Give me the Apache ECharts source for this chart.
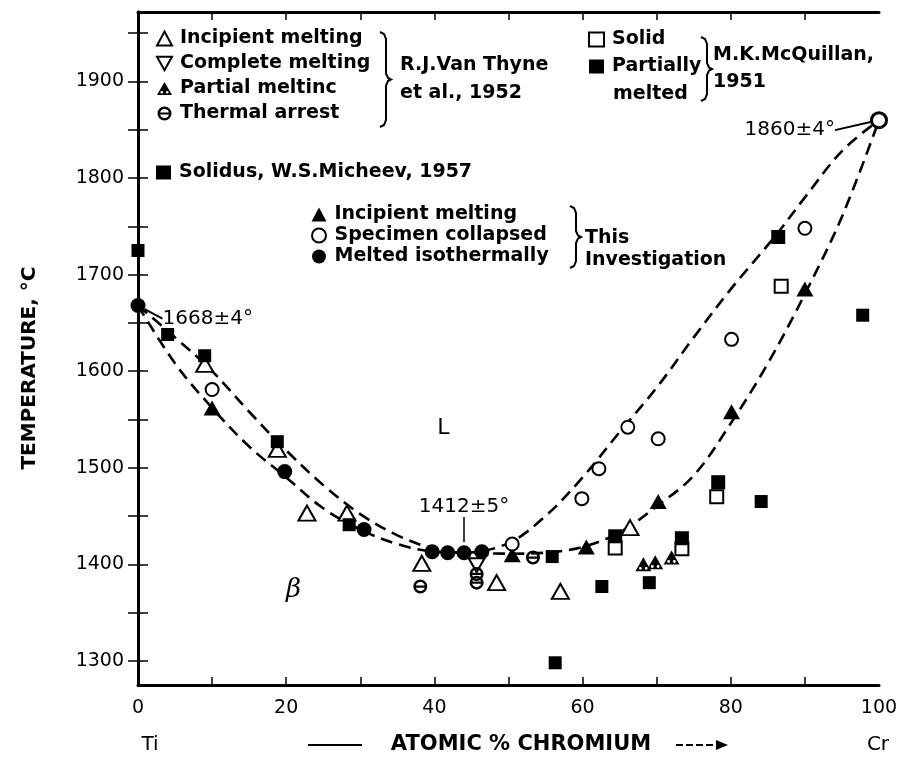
<!DOCTYPE html>
<html>
<head>
<meta charset="utf-8">
<script src="https://cdn.jsdelivr.net/npm/echarts@6/dist/echarts.min.js"></script>
<style>
  html, body { margin: 0; padding: 0; background: #fff; }
  #chart { width: 909px; height: 758px; }
</style>
</head>
<body>
<div id="chart"></div>
<script>
// Axis ticks: temperature (°C) and composition (atomic % Cr)
const tempLabels = [1300, 1400, 1500, 1600, 1700, 1800, 1900];
const tempTicks = [1300, 1350, 1400, 1450, 1500, 1550, 1600, 1650, 1700, 1750, 1800, 1850, 1900, 1950];
const compLabels = [0, 20, 40, 60, 80, 100];
const compTicks = [10, 20, 30, 40, 50, 60, 70, 80, 90];

// R.J. Van Thyne et al., 1952
const vanThyneIncipient = [[9, 1607], [18.8, 1519], [22.8, 1453], [28.2, 1453], [38.3, 1401], [48.4, 1381], [57, 1372], [66.4, 1438]];
const vanThyneComplete = [[45.7, 1399]];
const vanThynePartial = [[68.2, 1400], [69.8, 1402], [72, 1407]];
const vanThyneArrest = [[38.1, 1377], [45.7, 1390], [45.7, 1381], [53.3, 1407]];

// Solidus, W.S. Micheev, 1957
const micheevSolidus = [[0, 1725], [4, 1638], [9, 1616], [18.8, 1527], [28.5, 1441], [55.9, 1408], [56.3, 1298], [62.6, 1377], [69, 1381], [84.1, 1465], [97.8, 1658]];

// M.K. McQuillan, 1951
const mcQuillanSolid = [[64.4, 1417], [73.4, 1416], [78.1, 1470], [86.8, 1688]];
const mcQuillanPartial = [[64.4, 1429], [73.4, 1427], [78.3, 1485], [86.4, 1739]];

// This investigation
const incipientMelting = [[10, 1562], [50.5, 1410], [60.5, 1418], [70.2, 1465], [80.1, 1558], [90, 1685]];
const specimenCollapsed = [[10, 1581], [50.5, 1421], [59.9, 1468], [62.2, 1499], [66.1, 1542], [70.2, 1530], [80.1, 1633], [90, 1748]];
const meltedIsothermally = [[19.8, 1496], [30.5, 1436], [39.7, 1413], [41.8, 1412], [44, 1412], [46.4, 1413]];

// Melting points of the pure metals and the congruent minimum
const titaniumMelt = [0, 1668];
const chromiumMelt = [100, 1860];
const congruentMin = [44, 1412];

// Liquidus and solidus (dashed)
const liquidus = [[0, 1668], [5, 1635], [10, 1600], [15, 1558], [20, 1518], [25, 1482], [30, 1452], [35, 1430], [40, 1416], [44, 1412], [50, 1422], [55, 1450], [60, 1490], [65, 1537], [70, 1583], [75, 1635], [80, 1685], [86, 1740], [90, 1780], [95, 1828], [100, 1860]];
const solidus = [[0, 1668], [5, 1608], [10, 1562], [15, 1522], [20, 1490], [25, 1458], [30, 1436], [35, 1421], [40, 1413], [44, 1412], [50, 1411], [55, 1412], [60, 1418], [65, 1433], [70, 1460], [75, 1492], [80, 1546], [85, 1608], [90, 1680], [95, 1760], [100, 1860]];

// Phase-field labels
const regionLabels = [[41.2, 1541, 'L'], [21, 1373, 'β']];

const FONT = 'DejaVu Sans';
const INK = '#000';

const legendText = {
  vtIncipient: 'Incipient melting',
  vtComplete: 'Complete melting',
  vtPartial: 'Partial meltinc',
  vtArrest: 'Thermal arrest',
  micheev: 'Solidus, W.S.Micheev, 1957',
  mqSolid: 'Solid',
  mqPartial: 'Partially',
  tiIncipient: 'Incipient melting',
  tiCollapsed: 'Specimen collapsed',
  tiMelted: 'Melted isothermally'
};

const openStyle = { color: '#fff', borderColor: INK, borderWidth: 2, opacity: 1 };
const solidStyle = { color: INK, opacity: 1 };

// Symbol paths
const downTriangle = 'path://M-10,-8 L10,-8 L0,10 Z';
const arrestSymbol = 'path://M0,-10 A10,10 0 1,1 0,10 A10,10 0 1,1 0,-10 Z M0,-6.5 A6.5,6.5 0 1,0 0,6.5 A6.5,6.5 0 1,0 0,-6.5 Z M-8,-1.6 L8,-1.6 L8,1.6 L-8,1.6 Z';
const hatchedTriangle = 'path://M0,-10 L11,9 L-11,9 Z M-4,3 A2,2 0 1,0 -4,7 A2,2 0 1,0 -4,3 Z M4,3 A2,2 0 1,0 4,7 A2,2 0 1,0 4,3 Z';

function scatter(name, data, symbol, size, style, extra) {
  return Object.assign({
    name: name,
    type: 'scatter',
    data: data,
    symbol: symbol,
    symbolSize: size,
    itemStyle: style,
    clip: false,
    z: 5,
    emphasis: { disabled: true }
  }, extra || {});
}

function dashed(name, data) {
  return {
    name: name,
    type: 'line',
    data: data,
    smooth: 0.35,
    symbol: 'none',
    clip: false,
    lineStyle: { color: INK, width: 2.6, type: [12, 7] },
    z: 3,
    silent: true
  };
}

function brace(x, top, bottom) {
  const mid = (top + bottom) / 2;
  return {
    type: 'polyline',
    shape: {
      points: [[x, top], [x + 4, top + 2], [x + 6, top + 7], [x + 6, mid - 6], [x + 8, mid - 1.5], [x + 11, mid],
               [x + 8, mid + 1.5], [x + 6, mid + 6], [x + 6, bottom - 7], [x + 4, bottom - 2], [x, bottom]]
    },
    style: { stroke: INK, lineWidth: 2, fill: null }
  };
}

function txt(x, y, s, size, extra) {
  return {
    type: 'text',
    x: x, y: y,
    style: Object.assign({ text: s, font: 'bold ' + (size || 19) + 'px "' + FONT + '"', fill: INK, textVerticalAlign: 'middle' }, extra || {})
  };
}

const legendBase = {
  orient: 'vertical',
  selectedMode: false,
  padding: 0,
  itemWidth: 15,
  itemHeight: 14,
  formatter: n => legendText[n],
  textStyle: { fontFamily: FONT, fontSize: 19, fontWeight: 'bold', color: INK, padding: [0, 0, 0, 3] }
};

const chart = echarts.init(document.getElementById('chart'), null, { renderer: 'canvas' });

chart.setOption({
  animation: false,
  backgroundColor: '#fff',
  grid: { left: 138, right: 30, top: 12, bottom: 73 },
  xAxis: [
    {
      type: 'value', min: 0, max: 100, position: 'bottom',
      axisLine: { lineStyle: { color: INK, width: 3 } },
      axisTick: { inside: true, length: 8, customValues: compTicks, lineStyle: { color: INK, width: 1.5 } },
      axisLabel: { customValues: compLabels, fontFamily: FONT, fontSize: 19, color: INK, margin: 14 },
      splitLine: { show: false }
    },
    {
      type: 'value', min: 0, max: 100, position: 'top',
      axisLine: { lineStyle: { color: INK, width: 3 } },
      axisTick: { inside: true, length: 8, customValues: compTicks, lineStyle: { color: INK, width: 1.5 } },
      axisLabel: { show: false },
      splitLine: { show: false }
    }
  ],
  yAxis: [
    {
      type: 'value', min: 1275, max: 1972, position: 'left',
      axisLine: { lineStyle: { color: INK, width: 3 } },
      axisTick: { inside: true, length: 10, customValues: tempTicks, lineStyle: { color: INK, width: 1.5 } },
      axisLabel: { customValues: tempLabels, formatter: v => String(v), fontFamily: FONT, fontSize: 19, color: INK, margin: 14 },
      splitLine: { show: false }
    },
    {
      type: 'value', min: 1275, max: 1972, position: 'right',
      axisLine: { lineStyle: { color: INK, width: 3 } },
      axisTick: { inside: true, length: 10, customValues: tempTicks, lineStyle: { color: INK, width: 1.5 } },
      axisLabel: { show: false },
      splitLine: { show: false }
    }
  ],
  legend: [
    Object.assign({}, legendBase, { data: ['vtIncipient', 'vtComplete', 'vtPartial', 'vtArrest'], left: 156, top: 29, itemGap: 6 }),
    Object.assign({}, legendBase, { data: ['micheev'], left: 156, top: 163 }),
    Object.assign({}, legendBase, { data: ['mqSolid', 'mqPartial'], left: 588, top: 30, itemGap: 8 }),
    Object.assign({}, legendBase, { data: ['tiIncipient', 'tiCollapsed', 'tiMelted'], left: 311, top: 205, itemGap: 2 })
  ],
  graphic: [
    {
      type: 'text', x: 30, y: 368, rotation: Math.PI / 2,
      style: { text: 'TEMPERATURE, °C', font: 'bold 20px "' + FONT + '"', fill: INK, textAlign: 'center', textVerticalAlign: 'middle' }
    },
    brace(380, 32, 127),
    txt(400, 65, 'R.J.Van Thyne'),
    txt(400, 93, 'et al., 1952'),
    txt(613, 94, 'melted'),
    brace(701, 37, 101),
    txt(713, 55, 'M.K.McQuillan,'),
    txt(713, 82, '1951'),
    brace(570, 206, 268),
    txt(585, 238, 'This'),
    txt(585, 260, 'Investigation'),
    txt(150, 745, 'Ti', 20, { textAlign: 'center', font: '20px "' + FONT + '"' }),
    txt(878, 745, 'Cr', 20, { textAlign: 'center', font: '20px "' + FONT + '"' }),
    { type: 'line', shape: { x1: 308, y1: 745, x2: 362, y2: 745 }, style: { stroke: INK, lineWidth: 2 } },
    txt(521, 745, 'ATOMIC % CHROMIUM', 21, { textAlign: 'center' }),
    { type: 'line', shape: { x1: 676, y1: 745, x2: 718, y2: 745 }, style: { stroke: INK, lineWidth: 2, lineDash: [7, 3] } },
    { type: 'polygon', shape: { points: [[716, 740], [728, 745], [716, 750]] }, style: { fill: INK } }
  ],
  series: [
    dashed('liquidus', liquidus),
    dashed('solidus', solidus),
    scatter('vtIncipient', vanThyneIncipient, 'triangle', [17, 15], openStyle),
    scatter('vtComplete', vanThyneComplete, downTriangle, [16, 14], openStyle),
    scatter('vtPartial', vanThynePartial, hatchedTriangle, [16, 14], solidStyle),
    scatter('vtArrest', vanThyneArrest, arrestSymbol, 14, solidStyle),
    scatter('micheev', micheevSolidus, 'rect', 13, solidStyle),
    scatter('mqSolid', mcQuillanSolid, 'rect', 13, openStyle),
    scatter('mqPartial', mcQuillanPartial, 'rect', 14, solidStyle),
    scatter('tiIncipient', incipientMelting, 'triangle', [17, 15], solidStyle),
    scatter('tiCollapsed', specimenCollapsed, 'circle', 13, openStyle),
    scatter('tiMelted', meltedIsothermally, 'circle', 15, solidStyle),
    scatter('tiPoint', [titaniumMelt], 'circle', 15, solidStyle, {
      label: { show: true, position: 'right', formatter: '1668±4°', fontFamily: FONT, fontSize: 20, color: INK },
      labelLayout: { dx: 12, dy: 13 },
      labelLine: { show: true, lineStyle: { color: INK, width: 2, opacity: 1 } }
    }),
    scatter('crPoint', [chromiumMelt], 'circle', 15, { color: '#fff', borderColor: INK, borderWidth: 3, opacity: 1 }, {
      label: { show: true, position: 'left', formatter: '1860±4°', fontFamily: FONT, fontSize: 20, color: INK },
      labelLayout: { dx: -30, dy: 10 },
      labelLine: { show: true, lineStyle: { color: INK, width: 2, opacity: 1 } }
    }),
    {
      name: 'minimum',
      type: 'scatter',
      data: [congruentMin],
      symbolSize: 0,
      silent: true,
      markLine: {
        silent: true,
        symbol: ['none', 'arrow'],
        symbolSize: [0, 8],
        lineStyle: { color: INK, type: 'solid', width: 1.5, opacity: 1 },
        label: { show: true, position: 'start', formatter: '1412±5°', fontFamily: FONT, fontSize: 20, color: INK, distance: 0 },
        data: [[
          { coord: [congruentMin[0], congruentMin[1] + 37] },
          { coord: [congruentMin[0], congruentMin[1] + 11] }
        ]]
      }
    },
    {
      name: 'regions',
      type: 'scatter',
      data: regionLabels,
      symbolSize: 0,
      silent: true,
      itemStyle: { opacity: 1 },
      label: {
        show: true, position: 'inside',
        formatter: p => p.data[2] === 'β' ? '{b|β}' : '{l|L}',
        color: INK,
        rich: {
          b: { fontFamily: 'DejaVu Serif', fontStyle: 'italic', fontSize: 26, color: INK },
          l: { fontFamily: FONT, fontSize: 22, color: INK }
        }
      }
    }
  ]
});
</script>
</body>
</html>
